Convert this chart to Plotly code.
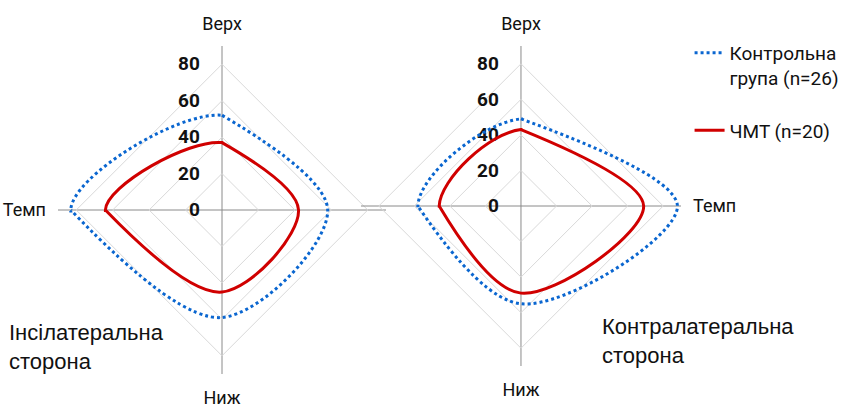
import math
import plotly.graph_objects as go

# Left chart: ipsilateral side (clockwise from top)
cats_left = ["Верх", " ", "Ниж", "Темп"]
ctrl_left = [52, 58, 59, 83]
tbi_left = [37, 42, 45, 64]

# Right chart: contralateral side (clockwise from top)
cats_right = ["Верх", "Темп", "Ниж", " "]
ctrl_right = [49, 88, 55, 58]
tbi_right = [43, 69, 49, 46]

radial_ticks = [0, 20, 40, 60, 80]
name_ctrl = "Контрольна<br>група (n=26)"
name_tbi = "ЧМТ (n=20)"

BLUE = "#0A66D0"
RED = "#D00000"
SMOOTH = 1.0
RMAX = 90
W, H = 843, 409


def closing(v):
    # order used for the closing (last -> first) smoothed piece, Excel-like
    return [v[2], v[3], v[0], v[1]]


def blue_line():
    return dict(color=BLUE, width=3, dash="dot", shape="spline", smoothing=SMOOTH)


def red_line():
    return dict(color=RED, width=3, shape="spline", smoothing=SMOOTH)


fig = go.Figure()
charts = [
    # grid, overlay, closing-sector, cats, ctrl, tbi, legend
    ("polar", "polar3", "polar5", cats_left, ctrl_left, tbi_left, True),
    ("polar2", "polar4", "polar6", cats_right, ctrl_right, tbi_right, False),
]
for grid_sub, over_sub, sect_sub, cats, ctrl, tbi, show in charts:
    fig.add_trace(go.Scatterpolar(r=ctrl, theta=cats, mode="lines", line=blue_line(),
                                  legendgroup="c", name=name_ctrl, showlegend=show,
                                  subplot=over_sub))
    fig.add_trace(go.Scatterpolar(r=tbi, theta=cats, mode="lines", line=red_line(),
                                  legendgroup="t", name=name_tbi, showlegend=show,
                                  subplot=grid_sub))
    fig.add_trace(go.Scatterpolar(r=closing(ctrl), theta=closing(cats), mode="lines",
                                  line=blue_line(), legendgroup="c", name=name_ctrl,
                                  showlegend=False, subplot=sect_sub))
    fig.add_trace(go.Scatterpolar(r=closing(tbi), theta=closing(cats), mode="lines",
                                  line=red_line(), legendgroup="t", name=name_tbi,
                                  showlegend=False, subplot=sect_sub))


def polar_cfg(dom_x, dom_y, cats):
    return dict(
        domain=dict(x=dom_x, y=dom_y),
        bgcolor="rgba(0,0,0,0)",
        gridshape="linear",
        angularaxis=dict(type="category", categoryarray=cats, direction="clockwise",
                         rotation=90, showline=False, gridcolor="#8A8A8A", gridwidth=1,
                         ticks="outside", ticklen=8, tickcolor="rgba(0,0,0,0)",
                         tickfont=dict(family="Roboto", size=18, color="#111"),
                         layer="below traces"),
        radialaxis=dict(range=[0, RMAX], tickvals=radial_ticks, angle=90,
                        side="counterclockwise", showline=False, gridcolor="#D9D9D9",
                        gridwidth=1, ticks="outside", ticklen=15, tickcolor="rgba(0,0,0,0)",
                        tickangle=90,
                        tickfont=dict(family="Roboto", size=19, color="#111", weight="bold"),
                        layer="below traces"),
    )


def hidden_cfg(dom_x, dom_y, cats, sector=None):
    d = dict(
        domain=dict(x=dom_x, y=dom_y),
        bgcolor="rgba(0,0,0,0)",
        gridshape="circular",
        angularaxis=dict(type="category", categoryarray=cats, direction="clockwise",
                         rotation=90, showline=False, showgrid=False, ticks="",
                         showticklabels=False),
        radialaxis=dict(range=[0, RMAX], showline=False, showgrid=False, ticks="",
                        showticklabels=False),
    )
    if sector is not None:
        d["sector"] = sector
    return d


def sector_domain(dom_x, dom_y, a0=89, a1=181):
    # upper-left quadrant (slightly widened) of the full-circle domain
    x0, x1 = dom_x[0] * W, dom_x[1] * W
    ytop, ybot = (1 - dom_y[1]) * H, (1 - dom_y[0]) * H
    R = min(x1 - x0, ybot - ytop) / 2
    cx, cy = (x0 + x1) / 2, (ytop + ybot) / 2
    ext = math.sin(math.radians(a1 - 180))
    ext2 = math.cos(math.radians(a0))
    sx = [(cx - R) / W, (cx + ext2 * R) / W]
    sy = [1 - (cy + ext * R) / H, 1 - (cy - R) / H]
    return sx, sy, [a0, a1]


dom_left = ([0.0688, 0.4579], [0.0856, 0.8875])
dom_right = ([0.4282, 0.8078], [0.1051, 0.8875])
sl = sector_domain(*dom_left)
sr = sector_domain(*dom_right)

fig.update_layout(
    width=W, height=H,
    margin=dict(l=0, r=0, t=0, b=0, autoexpand=False),
    paper_bgcolor="white", plot_bgcolor="white",
    polar=polar_cfg(*dom_left, cats_left),
    polar2=polar_cfg(*dom_right, cats_right),
    polar3=hidden_cfg(*dom_left, cats_left),
    polar4=hidden_cfg(*dom_right, cats_right),
    polar5=hidden_cfg(sl[0], sl[1], cats_left, sl[2]),
    polar6=hidden_cfg(sr[0], sr[1], cats_right, sr[2]),
    legend=dict(x=0.818, y=0.917, xanchor="left", yanchor="top", valign="top",
                traceorder="grouped", tracegroupgap=25,
                font=dict(family="Roboto", size=19, color="#111"),
                bgcolor="rgba(0,0,0,0)"),
    annotations=[
        dict(text="Інсілатеральна<br>сторона", x=7 / W, y=1 - 318 / H, xref="paper",
             yref="paper", xanchor="left", yanchor="top", align="left", showarrow=False,
             font=dict(family="Liberation Sans", size=22, color="#111")),
        dict(text="Контралатеральна<br>сторона", x=600 / W, y=1 - 312 / H, xref="paper",
             yref="paper", xanchor="left", yanchor="top", align="left", showarrow=False,
             font=dict(family="Liberation Sans", size=22, color="#111")),
    ],
)

fig.write_html("out.html", config={"displayModeBar": False},
               post_script="document.body.style.margin='0';")
